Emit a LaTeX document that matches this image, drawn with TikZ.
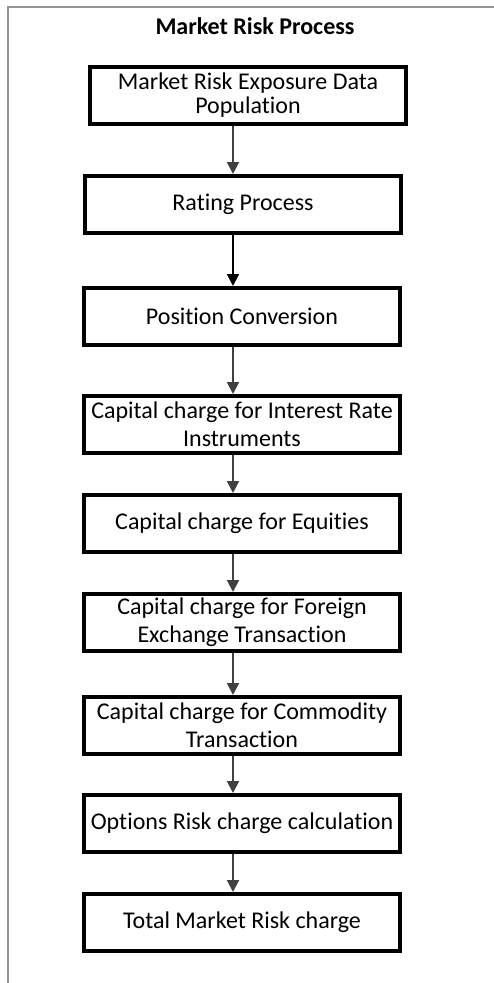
\documentclass[tikz,border=0pt]{standalone}
\usepackage{fontspec}
\setmainfont{Carlito}[Ligatures=NoCommon]
\usetikzlibrary{positioning,arrows.meta,calc}

\definecolor{framegray}{RGB}{150,150,150}
\definecolor{arrgray}{RGB}{64,64,64}

\begin{document}
\begin{tikzpicture}[
  x=1pt, y=1pt,
  font=\fontsize{24}{28}\selectfont,
  >={Triangle[length=12pt,width=12pt]},
  proc/.style={draw, line width=4pt, align=center, inner sep=1pt,
               minimum width=316pt, minimum height=57pt},
  arr/.style={line width=2pt, ->, draw=arrgray, fill=arrgray},
  frame/.style={line width=2pt, draw=framegray},
]
  \useasboundingbox (0,0) rectangle (494,-983);
  % Outer frame (top and left edge only)
  \draw[frame] (494,-7) -- (8,-7) -- (8,-983);
  % Title
  \node[font=\fontsize{24}{28}\selectfont\bfseries] (title) at (255,-26)
    {Market Risk Process};
  % Process steps
  \node[proc] (expo) at (248,-95.5)
    {Market Risk Exposure Data\\[-4pt]Population};
  \node[proc, below=48pt of expo, xshift=-5pt] (rate) {Rating Process};
  \node[proc, below=51pt of rate, xshift=-1pt] (posn) {Position Conversion};
  \node[proc, below=47pt of posn] (irate)
    {Capital charge for Interest Rate\\Instruments};
  \node[proc, below=38pt of irate] (equi) {Capital charge for Equities};
  \node[proc, below=38pt of equi] (forex)
    {Capital charge for Foreign\\Exchange Transaction};
  \node[proc, below=42pt of forex] (comm)
    {Capital charge for Commodity\\Transaction};
  \node[proc, below=37pt of comm] (opts) {Options Risk charge calculation};
  \node[proc, below=38pt of opts] (total) {Total Market Risk charge};
  % Arrows (all on one vertical line)
  \coordinate (ax) at (233,0);
  \draw[arr] (expo.south -| ax) -- (rate.north -| ax);
  \draw[arr, draw=black, fill=black] (rate.south -| ax) -- (posn.north -| ax);
  \draw[arr] (posn.south -| ax) -- (irate.north -| ax);
  \draw[arr] (irate.south -| ax) -- (equi.north -| ax);
  \draw[arr] (equi.south -| ax) -- (forex.north -| ax);
  \draw[arr] (forex.south -| ax) -- (comm.north -| ax);
  \draw[arr] (comm.south -| ax) -- (opts.north -| ax);
  \draw[arr] (opts.south -| ax) -- (total.north -| ax);
\end{tikzpicture}
\end{document}
